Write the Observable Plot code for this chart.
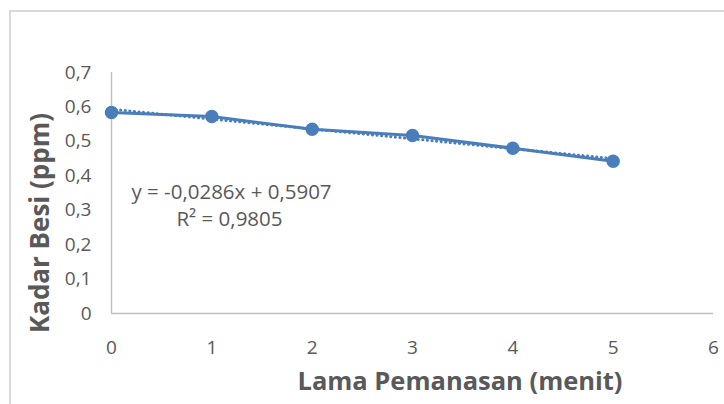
<!DOCTYPE html>
<html>
<head>
<meta charset="utf-8">
<script src="https://cdn.jsdelivr.net/npm/d3@7"></script>
<script src="https://cdn.jsdelivr.net/npm/@observablehq/plot@0.6"></script>
<style>
  html, body { margin: 0; padding: 0; background: #fff; }
  #wrap { position: relative; width: 724px; height: 404px; overflow: hidden; }
  #frame { position: absolute; left: 9px; top: 10px; width: 760px; height: 440px; border: 2px solid #d9d9d9; box-sizing: border-box; }
  #chart { position: absolute; left: 0; top: 0; }
</style>
</head>
<body>
<div id="wrap"><div id="frame"></div><div id="chart"></div></div>
<script>
const minutes = [0, 1, 2, 3, 4, 5];
const iron = [0.584, 0.572, 0.535, 0.517, 0.480, 0.442];
const xTicks = [0, 1, 2, 3, 4, 5, 6];
const yTicks = [0, 0.1, 0.2, 0.3, 0.4, 0.5, 0.6, 0.7];
const equationLines = ["y = -0,0286x + 0,5907", "R² = 0,9805"];
const equationX = [1.196, 1.176];
const equationY = [0.351, 0.2745];

const data = minutes.map((m, i) => ({x: m, y: iron[i]}));
const eq = equationLines.map((t, i) => ({t, x: equationX[i], y: equationY[i]}));
const fmtY = d => d === 0 ? "0" : d.toFixed(1).replace(".", ",");
const fmtX = d => String(d);
const blue = "#4a7ebb";
const gray = "#595959";

const plot = Plot.plot({
  width: 724,
  height: 404,
  marginLeft: 111,
  marginRight: 11,
  marginTop: 72,
  marginBottom: 91,
  style: {fontFamily: "Open Sans", color: gray, background: "transparent", overflow: "visible"},
  x: {domain: [0, 6], label: null},
  y: {domain: [0, 0.7], label: null},
  marks: [
    Plot.ruleX([0], {stroke: "#c0c0c0", strokeWidth: 1.5}),
    Plot.ruleY([0], {stroke: "#c0c0c0", strokeWidth: 1.5}),
    Plot.axisY({ticks: yTicks, tickFormat: fmtY, tickSize: 0, tickPadding: 20, fontSize: 19, fill: gray, label: null}),
    Plot.axisX({ticks: xTicks, tickFormat: fmtX, tickSize: 0, tickPadding: 27, fontSize: 19, fill: gray, label: null}),
    Plot.linearRegressionY(data, {x: "x", y: "y", ci: 0, stroke: blue, strokeWidth: 3, strokeDasharray: "0.1 4.5", strokeLinecap: "round"}),
    Plot.line(data, {x: "x", y: "y", stroke: blue, strokeWidth: 3}),
    Plot.dot(data, {x: "x", y: "y", r: 6, fill: blue, stroke: blue}),
    Plot.text(eq, {x: "x", y: "y", text: "t", fontSize: 20.5, fill: gray, textAnchor: "middle"})
  ]
});
const svg = d3.select(plot);
svg.append("text")
  .attr("x", 460).attr("y", 390)
  .attr("text-anchor", "middle")
  .attr("font-family", "Open Sans").attr("font-weight", "bold").attr("font-size", 25.5)
  .attr("fill", gray)
  .text("Lama Pemanasan (menit)");
svg.append("text")
  .attr("transform", "translate(49,223) rotate(-90)")
  .attr("text-anchor", "middle")
  .attr("font-family", "Open Sans").attr("font-weight", "bold").attr("font-size", 26)
  .attr("fill", gray)
  .text("Kadar Besi (ppm)");
document.getElementById("chart").appendChild(plot);
</script>
</body>
</html>
